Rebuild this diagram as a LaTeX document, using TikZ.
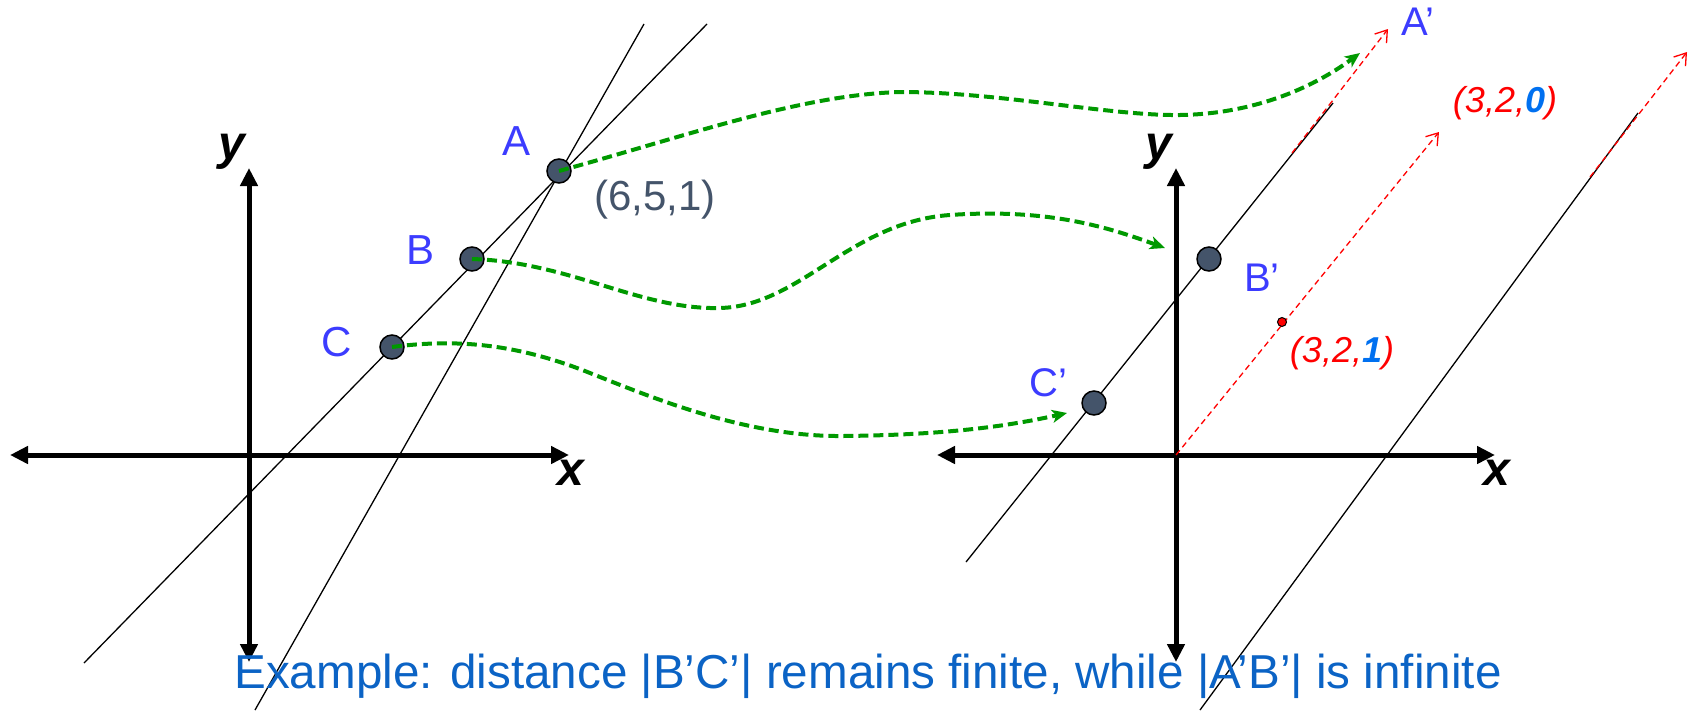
\documentclass[tikz,border=0pt]{standalone}
\usepackage{fontspec}
\setmainfont{Liberation Sans}
\usetikzlibrary{arrows.meta}
\definecolor{ptfill}{HTML}{44546A}
\definecolor{lblblue}{HTML}{3C3CFF}
\definecolor{mapgreen}{HTML}{009900}
\definecolor{capblue}{HTML}{0B63C5}
\definecolor{wblue}{HTML}{0070F0}
\tikzset{
  axis/.style={line width=5pt, {Triangle[length=18pt,width=17pt]}-{Triangle[length=18pt,width=17pt]}},
  thinline/.style={line width=1.3pt},
  pt/.style={circle, draw=black, line width=1.5pt, fill=ptfill, minimum size=24pt, inner sep=0pt},
  maparrow/.style={mapgreen, line width=4pt, dash pattern=on 10pt off 5pt, -{Stealth[length=15pt,width=13pt,inset=4pt]}},
  ray/.style={red, line width=1.3pt, dash pattern=on 6pt off 4pt, -{Straight Barb[length=11pt,width=15pt]}},
  ptlabel/.style={text=lblblue, font=\fontsize{42}{48}\selectfont, inner sep=0pt},
  axlabel/.style={font=\fontsize{48}{54}\selectfont\bfseries\itshape, inner sep=0pt},
  hlabel/.style={text=red, font=\fontsize{36}{40}\selectfont\itshape, inner sep=0pt}
}
\begin{document}
\begin{tikzpicture}[x=1pt, y=-1pt]
  \useasboundingbox (0,0) rectangle (1691,710);
  \draw[thinline] (84,663) -- (707,24);
  \draw[thinline] (255,710) -- (644,24);
  \draw[axis] (10,455) -- (569,455);
  \draw[axis] (249,662) -- (249,168);
  \node[axlabel] (ylft) at (232,152) {y};
  \node[axlabel] (xlft) at (571,473) {x};
  \node[pt] (ptA) at (559,171) {};
  \node[pt] (ptB) at (472,259) {};
  \node[pt] (ptC) at (392,347) {};
  \node[ptlabel] (lblA) at (517,141) {A};
  \node[ptlabel] (lblB) at (421,250) {B};
  \node[ptlabel] (lblC) at (337,342) {C};
  \node[text=ptfill, font=\fontsize{42}{48}\selectfont, inner sep=0pt] (crdA) at (655,200) {(6,5,1)};
  \draw[thinline] (966,562) -- (1333,103);
  \draw[thinline] (1200,710) -- (1638,113);
  \draw[axis] (937,455) -- (1495,455);
  \draw[axis] (1176,662) -- (1176,168);
  \node[axlabel] (yrgt) at (1159,152) {y};
  \node[axlabel] (xrgt) at (1497,473) {x};
  \coordinate (org) at (1176,455);
  \coordinate (rayO) at (1439,132);
  \coordinate (rayAs) at (1292,153);
  \coordinate (rayAe) at (1388,29);
  \coordinate (rayFs) at (1590,177);
  \coordinate (rayFe) at (1687,52);
  \draw[ray] (org) -- (rayO);
  \draw[ray] (rayAs) -- (rayAe);
  \draw[ray] (rayFs) -- (rayFe);
  \node[circle, draw=black, line width=1pt, fill=red, minimum size=9pt, inner sep=0pt] (hdot) at (1282,322) {};
  \node[pt] (ptBp) at (1209,259) {};
  \node[pt] (ptCp) at (1094,403) {};
  \node[ptlabel, font=\fontsize{40}{46}\selectfont] (lblAp) at (1418,22) {A’};
  \node[ptlabel, font=\fontsize{40}{46}\selectfont] (lblBp) at (1262,278) {B’};
  \node[ptlabel, font=\fontsize{40}{46}\selectfont] (lblCp) at (1048,383) {C’};
  \node[hlabel] (hinf) at (1505,103) {(3,2,\textcolor{wblue}{\bfseries 0})};
  \node[hlabel] (hfin) at (1342,353) {(3,2,\textcolor{wblue}{\bfseries 1})};
  \coordinate (tipA) at (1360,53);
  \coordinate (tipB) at (1165,248);
  \coordinate (tipC) at (1067,413);
  \draw[maparrow] (ptA.center) .. controls (690,135) and (800,95) .. (900,92)
    .. controls (1000,92) and (1110,116) .. (1180,115)
    .. controls (1250,114) and (1310,90) .. (tipA);
  \draw[maparrow] (ptB.center) .. controls (570,262) and (640,310) .. (720,308)
    .. controls (800,306) and (850,222) .. (950,215)
    .. controls (1050,208) and (1110,228) .. (tipB);
  \draw[maparrow] (ptC.center) .. controls (460,338) and (520,345) .. (590,373)
    .. controls (660,401) and (750,437) .. (843,436)
    .. controls (936,435) and (1000,428) .. (tipC);
  \node[text=capblue, font=\fontsize{47.6}{52}\selectfont, anchor=base, inner sep=0pt] (caption) at (868,688)
    {Example: distance |B’C’| remains finite, while |A’B’| is infinite};
\end{tikzpicture}
\end{document}
